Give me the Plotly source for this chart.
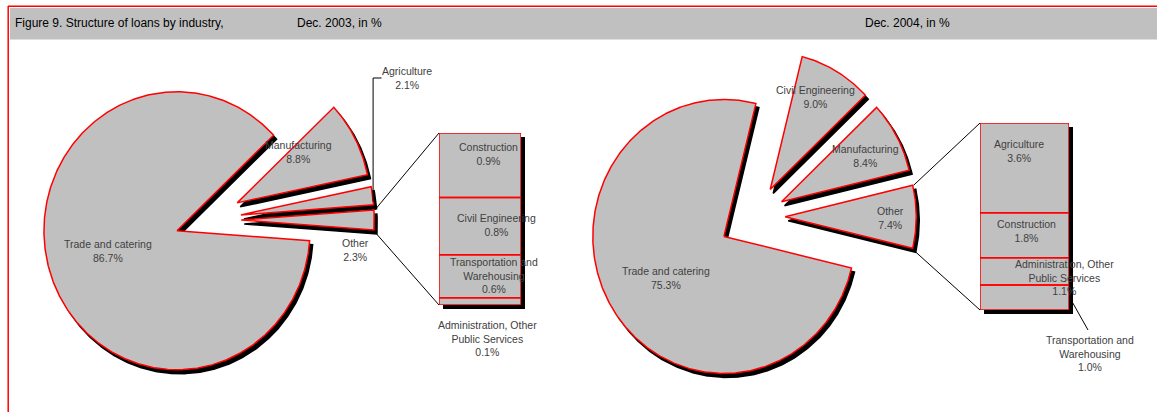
import numpy as np
import plotly.graph_objects as go

# ---- data: structure of loans by industry, in % ----
# pie slices, listed counter-clockwise starting from the "Other" slice
pie03_labels = ["Other", "Agriculture", "Manufacturing", "Trade and catering"]
pie03_values = [2.3, 2.1, 8.8, 86.7]
# breakdown of "Other", listed bottom-up in the stacked column
bar03_labels = ["Administration, Other Public Services", "Transportation and Warehousing",
                "Civil Engineering", "Construction"]
bar03_values = [0.1, 0.6, 0.8, 0.9]

pie04_labels = ["Other", "Manufacturing", "Civil Engineering", "Trade and catering"]
pie04_values = [7.4, 8.4, 9.0, 75.3]
bar04_labels = ["Transportation and Warehousing", "Administration, Other Public Services",
                "Construction", "Agriculture"]
bar04_values = [1.0, 1.1, 1.8, 3.6]

title_text = "Figure 9. Structure of loans by industry,"
sub03_text = "Dec. 2003, in %"
sub04_text = "Dec. 2004, in %"

# ---- styling / layout ----
W, H = 1157, 412
SX = 0.957             # horizontal squeeze of the pies
FILL = "#C0C0C0"
EDGE = "#FF0000"
TXT = "#404040"
FONT = "Liberation Sans, Arial, sans-serif"
SHADOW = (3, 4)

WRAP = {
    "Administration, Other Public Services": "Administration, Other<br>Public Services",
    "Transportation and Warehousing": "Transportation and<br>Warehousing",
}


def label_text(name, value):
    return f"{WRAP.get(name, name)}<br>{value:.1f}%"


def pie_geometry(values, cx, cy, r, explode):
    """Sector outlines; the first slice is centred on the 0-degree direction."""
    total = sum(values)
    spans = [v / total * 360.0 for v in values]
    start = -spans[0] / 2.0
    out = []
    for span, d in zip(spans, explode):
        a0, a1 = start, start + span
        mid = np.radians((a0 + a1) / 2.0)
        ax = cx + d * SX * np.cos(mid)
        ay = cy - d * np.sin(mid)
        th = np.radians(np.linspace(a0, a1, max(int(span * 2), 6)))
        xs = np.concatenate([[ax], ax + r * SX * np.cos(th), [ax]])
        ys = np.concatenate([[ay], ay - r * np.sin(th), [ay]])
        out.append(dict(x=xs, y=ys, a0=a0, a1=a1, ax=ax, ay=ay, r=r))
        start = a1
    return out


def arc_point(g, ang):
    t = np.radians(ang)
    return g["ax"] + g["r"] * SX * np.cos(t), g["ay"] - g["r"] * np.sin(t)


fig = go.Figure()

pies = [
    (pie03_labels, pie03_values, pie_geometry(pie03_values, 205.8, 220.0, 139, [37, 37, 37, 32])),
    (pie04_labels, pie04_values, pie_geometry(pie04_values, 755.0, 216.7, 137, [31.5, 31.5, 31.5, 38])),
]

# drop shadows first, then the slices on top
for labels, values, geo in pies:
    for g in geo:
        fig.add_trace(go.Scatter(
            x=g["x"] + SHADOW[0], y=g["y"] + SHADOW[1], mode="lines", fill="toself",
            fillcolor="black", line=dict(color="black", width=1.5),
            hoverinfo="skip", showlegend=False))
for labels, values, geo in pies:
    for name, v, g in zip(labels, values, geo):
        fig.add_trace(go.Scatter(
            x=g["x"], y=g["y"], mode="lines", fill="toself", fillcolor=FILL,
            line=dict(color=EDGE, width=1.5), name=name,
            hovertemplate=f"{name}: {v:.1f}%<extra></extra>", showlegend=False))

# stacked columns breaking down "Other"
BOX03 = (439, 521, 133, 305)   # left, right, top, bottom in pixels
BOX04 = (980, 1069, 123, 310)
for axn, labels, values in [("2", bar03_labels, bar03_values), ("3", bar04_labels, bar04_values)]:
    for name, v in zip(labels, values):
        fig.add_trace(go.Bar(
            x=[0], y=[v], width=1, name=name, xaxis="x" + axn, yaxis="y" + axn,
            marker=dict(color=FILL, line=dict(width=0)),
            hovertemplate=f"{name}: {v:.1f}%<extra></extra>", showlegend=False))
    # red outline of every stacked segment
    tops = np.cumsum(values)
    bases = tops - np.array(values)
    for b0, b1 in zip(bases, tops):
        fig.add_trace(go.Scatter(
            x=[-0.5, 0.5, 0.5, -0.5, -0.5], y=[b0, b0, b1, b1, b0], mode="lines",
            line=dict(color=EDGE, width=1.5), xaxis="x" + axn, yaxis="y" + axn,
            cliponaxis=False, hoverinfo="skip", showlegend=False))


def bar_axes(box, total):
    l, r, t, b = box
    xa = dict(domain=[l / W, r / W], range=[-0.5, 0.5], visible=False, fixedrange=True)
    ya = dict(domain=[1 - b / H, 1 - t / H], range=[0, total], visible=False, fixedrange=True)
    return xa, ya


xa2, ya2 = bar_axes(BOX03, sum(bar03_values))
xa3, ya3 = bar_axes(BOX04, sum(bar04_values))
xa2["anchor"] = "y2"; ya2["anchor"] = "x2"
xa3["anchor"] = "y3"; ya3["anchor"] = "x3"

shapes = []
# header band and red frame
shapes.append(dict(type="rect", xref="x", yref="y", x0=10, x1=W, y0=8, y1=39.5,
                   fillcolor="#C0C0C0", line=dict(width=0), layer="below"))
shapes.append(dict(type="line", xref="x", yref="y", x0=8, x1=W, y0=6.2, y1=6.2,
                   line=dict(color=EDGE, width=1.5)))
shapes.append(dict(type="line", xref="x", yref="y", x0=8.2, x1=8.2, y0=6, y1=H,
                   line=dict(color=EDGE, width=1.5)))
# column shadows, with a grey underlay so no dark seams show between segments
for l, r, t, b in (BOX03, BOX04):
    shapes.append(dict(type="rect", xref="x", yref="y", x0=l + 4, x1=r + 4, y0=t + 4, y1=b + 4,
                       fillcolor="black", line=dict(width=0), layer="below"))
    shapes.append(dict(type="rect", xref="x", yref="y", x0=l, x1=r, y0=t, y1=b,
                       fillcolor=FILL, line=dict(width=0), layer="below"))

# connector lines from the "Other" slice to its column
for (labels, values, geo), box in zip(pies, (BOX03, BOX04)):
    g = geo[0]
    xt, yt = arc_point(g, g["a1"])
    xb, yb = arc_point(g, g["a0"])
    shapes.append(dict(type="line", x0=xt + 1, y0=yt, x1=box[0], y1=box[2],
                       line=dict(color="black", width=1)))
    shapes.append(dict(type="line", x0=xb + 1, y0=yb + 2, x1=box[0], y1=box[3],
                       line=dict(color="black", width=1)))

# leader for the Agriculture label (2003)
ga = pies[0][2][1]
lx, ly = arc_point(ga, (ga["a0"] + ga["a1"]) / 2)
shapes.append(dict(type="path", path=f"M {lx + 0.5:.1f},{ly + 6:.1f} L {lx + 0.5:.1f},78 L 381.5,78",
                   line=dict(color="black", width=1)))
# leader for the Transportation label (2004)
shapes.append(dict(type="line", x0=1070, y0=298, x1=1088, y1=330,
                   line=dict(color="black", width=1)))

annotations = []


def ann(x, y, text, size=10.5, color=TXT, xanchor="center"):
    annotations.append(dict(x=x, y=y, xref="x", yref="y", text=text, showarrow=False,
                            xanchor=xanchor, yanchor="middle", align="center",
                            font=dict(family=FONT, size=size, color=color)))


# header texts
ann(13, 22.5, title_text, size=12, color="black", xanchor="left")
ann(295, 22.5, sub03_text, size=12, color="black", xanchor="left")
ann(863, 22.5, sub04_text, size=12, color="black", xanchor="left")

# slice / segment labels (centre positions)
pos03 = {"Trade and catering": (108, 251), "Manufacturing": (298, 151.5),
         "Agriculture": (407, 77.5), "Other": (355, 250)}
bpos03 = {"Construction": (488, 153.5), "Civil Engineering": (496, 224.5),
          "Transportation and Warehousing": (494, 275),
          "Administration, Other Public Services": (487.5, 338)}
pos04 = {"Civil Engineering": (815.5, 96.7), "Manufacturing": (865, 155.5),
         "Other": (890, 217.5), "Trade and catering": (666.3, 278.3)}
bpos04 = {"Agriculture": (1019, 151.3), "Construction": (1026.3, 230.5),
          "Administration, Other Public Services": (1064.7, 277),
          "Transportation and Warehousing": (1090, 353.2)}

for labels, values, pos in [(pie03_labels, pie03_values, pos03), (bar03_labels, bar03_values, bpos03),
                            (pie04_labels, pie04_values, pos04), (bar04_labels, bar04_values, bpos04)]:
    for name, v in zip(labels, values):
        x, y = pos[name]
        ann(x, y, label_text(name, v))

fig.update_layout(
    width=W, height=H,
    margin=dict(l=0, r=0, t=0, b=0),
    paper_bgcolor="white",
    plot_bgcolor="rgba(0,0,0,0)",
    showlegend=False,
    barmode="stack",
    bargap=0,
    font=dict(family=FONT),
    xaxis=dict(range=[0, W], visible=False, fixedrange=True, domain=[0, 1]),
    yaxis=dict(range=[H, 0], visible=False, fixedrange=True, domain=[0, 1]),
    xaxis2=xa2, yaxis2=ya2, xaxis3=xa3, yaxis3=ya3,
    shapes=shapes,
    annotations=annotations,
)

fig.write_html("out.html")
